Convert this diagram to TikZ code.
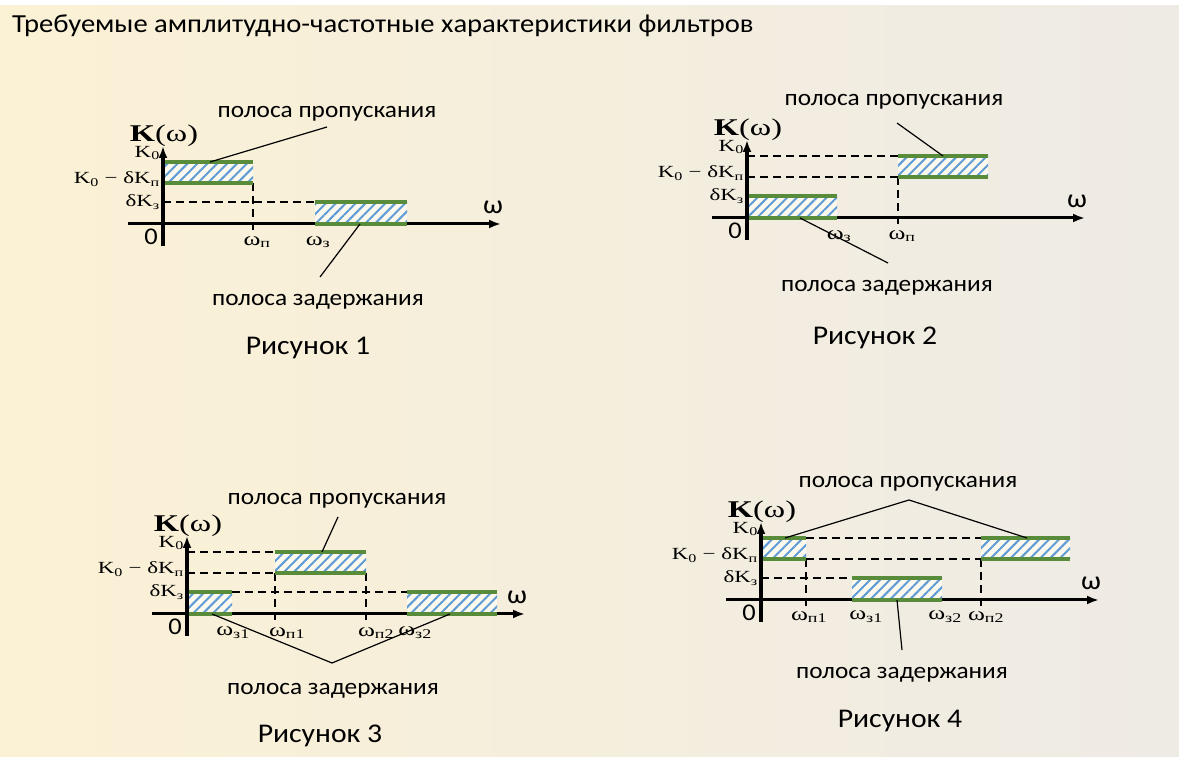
\documentclass[tikz,border=0pt]{standalone}
\usepackage{fontspec}
\setmainfont{Liberation Serif}
\newfontfamily\calfont{Carlito}[FakeStretch=1.1]
\newfontfamily\lvlfont{Liberation Serif}[FakeStretch=1.35]
\usetikzlibrary{arrows.meta,patterns.meta,positioning}

\definecolor{bandgreen}{RGB}{88,140,58}
\definecolor{hatchblue}{RGB}{95,155,212}
\definecolor{bgleft}{RGB}{251,241,213}
\definecolor{bgright}{RGB}{238,235,229}

\tikzset{
  axis/.style={line width=3pt,-{Latex[length=12pt,width=9pt]}},
  yaxis/.style={axis,line width=3.5pt},
  edgeline/.style={bandgreen,line width=4pt},
  hatch/.style={fill=white!60!bgleft,postaction={pattern={Lines[angle=45,distance=7pt,line width=2pt]},pattern color=hatchblue}},
  guide/.style={line width=2pt,dash pattern=on 8pt off 5pt},
  lead/.style={line width=1.2pt},
  lvl/.style={font=\lvlfont\fontsize{17}{20}\selectfont,anchor=east,inner sep=0pt},
  freq/.style={font=\lvlfont\fontsize{19}{20}\selectfont,inner sep=0pt},
  fnlbl/.style={font=\lvlfont\fontsize{24}{28}\selectfont,inner sep=0pt},
  axlbl/.style={font=\calfont\fontsize{26}{28}\selectfont,inner sep=0pt},
  zero/.style={font=\calfont\fontsize{24}{26}\selectfont,inner sep=0pt},
  note/.style={font=\calfont\fontsize{23}{26}\selectfont,inner sep=0pt},
  caption/.style={font=\calfont\fontsize{27}{29}\selectfont,inner sep=0pt},
}

% axes and level labels of one panel, #1 = name prefix
\newcommand\filterframe[1]{%
  \coordinate (#1-xs) at (-35,0);
  \coordinate (#1-xe) at (338,0);
  \coordinate (#1-ys) at (0,-22);
  \coordinate (#1-ye) at (0,78);
  \draw[axis] (#1-xs) -- (#1-xe);
  \node[axlbl] (#1-w) at (330,17) {ω};
  \node[fnlbl] (#1-K) at (1,88) {\textbf{K}(ω)};
  \node[lvl] (#1-k0) at (-3,71) {K\textsubscript{0}};
  \node[lvl] (#1-k0d) at (-3,45) {K\textsubscript{0} − δK\textsubscript{п}};
  \node[lvl] (#1-dkz) at (-3,22) {δK\textsubscript{з}};
  \node[zero] (#1-zero) at (-12,-13) {0};
}
% hatched band: x from #1 to #2, y from #3 to #4
\newcommand\band[4]{%
  \fill[hatch] (#1,#3) rectangle (#2,#4);
  \draw[edgeline] (#1,#3) -- (#2,#3) (#1,#4) -- (#2,#4);
}

\begin{document}
\begin{tikzpicture}[x=1pt,y=1pt]
  \shade[left color=bgleft,right color=bgright] (0,0) rectangle (1179,757);
  \fill[white] (0,752) rectangle (1179,757);
  \node[note,anchor=base west,font=\calfont\fontsize{26}{28}\selectfont] (title) at (12,724)
    {Требуемые амплитудно-частотные характеристики фильтров};

  % Рисунок 1
  \begin{scope}[shift={(163,533)}]
    \filterframe{a}
    \draw[guide] (0,22) -- (152,22);
    \draw[guide] (90,41) -- (90,-6);
    \band{0}{90}{41}{62}
    \band{152}{244}{0}{22}
    \draw[yaxis] (a-ys) -- (a-ye);
    \node[freq] (a-wp) at (94,-18) {ω\textsubscript{п}};
    \node[freq] (a-wz) at (155,-18) {ω\textsubscript{з}};
    \coordinate (a-passpt) at (47,62);
    \coordinate (a-passend) at (164,97);
    \coordinate (a-stoppt) at (197,0);
    \coordinate (a-stopend) at (157,-53);
    \node[note] (a-passlbl) at (164,110) {полоса пропускания};
    \node[note] (a-stoplbl) at (155,-78) {полоса задержания};
    \node[caption] (a-cap) at (145,-124) {Рисунок 1};
    \draw[lead] (a-passpt) -- (a-passend);
    \draw[lead] (a-stoppt) -- (a-stopend);
  \end{scope}

  % Рисунок 2
  \begin{scope}[shift={(747,539)}]
    \filterframe{b}
    \draw[guide] (0,62) -- (151,62);
    \draw[guide] (0,41) -- (151,41);
    \draw[guide] (151,41) -- (151,-6);
    \band{0}{90}{0}{22}
    \band{151}{241}{41}{62}
    \draw[yaxis] (b-ys) -- (b-ye);
    \node[freq] (b-wz) at (92,-18) {ω\textsubscript{з}};
    \node[freq] (b-wp) at (155,-18) {ω\textsubscript{п}};
    \coordinate (b-passpt) at (196,62);
    \coordinate (b-passend) at (150,95);
    \coordinate (b-stoppt) at (53,0);
    \coordinate (b-stopend) at (141,-45);
    \node[note] (b-passlbl) at (147,116) {полоса пропускания};
    \node[note] (b-stoplbl) at (140,-70) {полоса задержания};
    \node[caption] (b-cap) at (128,-120) {Рисунок 2};
    \draw[lead] (b-passpt) -- (b-passend);
    \draw[lead] (b-stoppt) -- (b-stopend);
  \end{scope}

  % Рисунок 3
  \begin{scope}[shift={(187,143)}]
    \filterframe{c}
    \draw[guide] (0,62) -- (88,62);
    \draw[guide] (0,41) -- (88,41);
    \draw[guide] (45,22) -- (220,22);
    \draw[guide] (88,41) -- (88,-6);
    \draw[guide] (179,41) -- (179,-6);
    \band{0}{45}{0}{22}
    \band{88}{179}{41}{62}
    \band{220}{310}{0}{22}
    \draw[yaxis] (c-ys) -- (c-ye);
    \node[freq] (c-wz1) at (46,-19) {ω\textsubscript{з1}};
    \node[freq] (c-wp1) at (100,-19) {ω\textsubscript{п1}};
    \node[freq] (c-wp2) at (189,-19) {ω\textsubscript{п2}};
    \node[freq] (c-wz2) at (228,-19) {ω\textsubscript{з2}};
    \coordinate (c-passpt) at (135,62);
    \coordinate (c-passend) at (151,97);
    \coordinate (c-stopa) at (25,0);
    \coordinate (c-stopb) at (263,0);
    \coordinate (c-stopend) at (145,-49);
    \node[note] (c-passlbl) at (150,113) {полоса пропускания};
    \node[note] (c-stoplbl) at (146,-77) {полоса задержания};
    \node[caption] (c-cap) at (133,-122) {Рисунок 3};
    \draw[lead] (c-passpt) -- (c-passend);
    \draw[lead] (c-stopa) -- (c-stopend) -- (c-stopb);
  \end{scope}

  % Рисунок 4
  \begin{scope}[shift={(761,157)}]
    \filterframe{d}
    \draw[guide] (45,62) -- (220,62);
    \draw[guide] (45,41) -- (220,41);
    \draw[guide] (0,22) -- (91,22);
    \draw[guide] (45,41) -- (45,-6);
    \draw[guide] (220,41) -- (220,-6);
    \band{0}{45}{41}{62}
    \band{91}{181}{0}{22}
    \band{220}{309}{41}{62}
    \draw[yaxis] (d-ys) -- (d-ye);
    \node[freq] (d-wp1) at (48,-17) {ω\textsubscript{п1}};
    \node[freq] (d-wz1) at (105,-17) {ω\textsubscript{з1}};
    \node[freq] (d-wz2) at (184,-17) {ω\textsubscript{з2}};
    \node[freq] (d-wp2) at (225,-17) {ω\textsubscript{п2}};
    \coordinate (d-passa) at (24,62);
    \coordinate (d-passb) at (266,62);
    \coordinate (d-passend) at (148,100);
    \coordinate (d-stoppt) at (136,0);
    \coordinate (d-stopend) at (141,-50);
    \node[note] (d-passlbl) at (147,116) {полоса пропускания};
    \node[note] (d-stoplbl) at (141,-75) {полоса задержания};
    \node[caption] (d-cap) at (139,-121) {Рисунок 4};
    \draw[lead] (d-passa) -- (d-passend) -- (d-passb);
    \draw[lead] (d-stoppt) -- (d-stopend);
  \end{scope}
\end{tikzpicture}
\end{document}
